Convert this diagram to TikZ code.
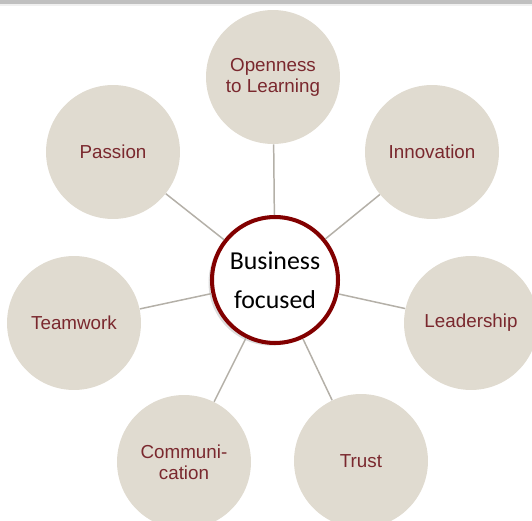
\documentclass[tikz,border=0pt]{standalone}
\usepackage{fontspec}
\setmainfont{Liberation Sans}
\newfontfamily\hubfont{Carlito}
\usetikzlibrary{shadows, positioning}
\definecolor{beige}{RGB}{224,219,208}
\definecolor{wine}{RGB}{122,40,46}
\definecolor{ringred}{RGB}{130,0,0}
\definecolor{spoke}{RGB}{180,176,168}
\definecolor{topbar}{RGB}{192,192,192}

\begin{document}
\begin{tikzpicture}[x=0.02cm, y=-0.02cm,
		value/.style={circle, fill=beige, minimum size=2.68cm, inner sep=0pt, align=center, text=wine, font=\fontsize{10.7}{12}\selectfont},
		hub/.style={circle, draw=ringred, line width=2.3pt, fill=white, minimum size=2.52cm, inner sep=0pt, align=center, font=\hubfont\fontsize{14.7}{22.5}\selectfont, drop shadow={shadow xshift=-2pt, shadow yshift=-1.5pt, fill=gray!45, opacity=0.6}},
		spokeline/.style={draw=spoke, line width=0.85pt}]
			% Page frame
			\useasboundingbox (0,0) rectangle (532,521);
			\clip (0,0) rectangle (532,521);
			\fill[topbar] (0,0) rectangle (532,4);
			\fill[gray!12] (0,4) rectangle (532,5.5);
			% Values round the hub
			\node[value] (open) at (273,77) {Openness\\to Learning};
			\node[value] (passion) at (113,152) {Passion};
			\node[value] (innov) at (432,152) {Innovation};
			\node[value] (team) at (74,323) {Teamwork};
			\node[value] (lead) at (471,323) {Leadership};
			\node[value] (comm) at (184,462) {Communi-\\cation};
			\node[value] (trust) at (361,461) {Trust};
			% Hub in the middle
			\node[hub] (hub) at (275,280) {Business\\focused};
			% Spokes
			\foreach \v in {open, passion, innov, team, lead, comm, trust}
				\draw[spokeline] (hub) -- (\v);
		\end{tikzpicture}
\end{document}
